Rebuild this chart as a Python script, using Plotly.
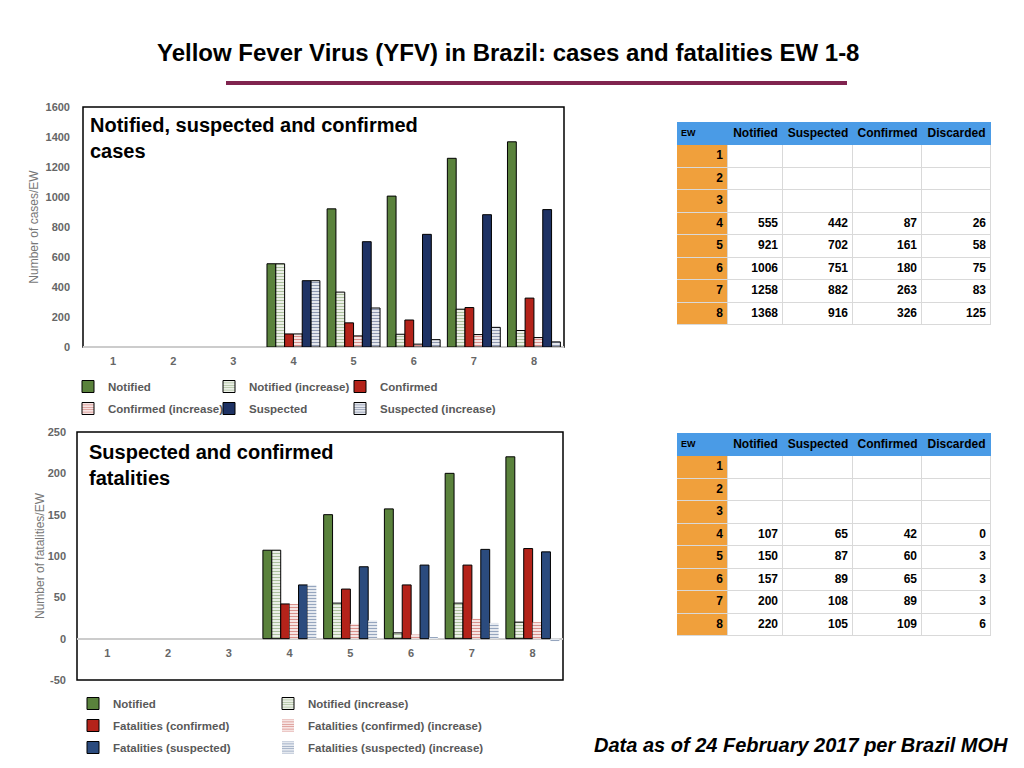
import plotly.graph_objects as go

W, H = 1024, 768

# epidemiological weeks
weeks = [1, 2, 3, 4, 5, 6, 7, 8]

# cases (cumulative)
notified = [None, None, None, 555, 921, 1006, 1258, 1368]
suspected = [None, None, None, 442, 702, 751, 882, 916]
confirmed = [None, None, None, 87, 161, 180, 263, 326]
discarded = [None, None, None, 26, 58, 75, 83, 125]
# cases (increase per EW)
notified_inc = [None, None, None, 555, 366, 85, 252, 110]
confirmed_inc = [None, None, None, 87, 74, 19, 83, 63]
suspected_inc = [None, None, None, 442, 260, 49, 131, 34]

# fatalities (cumulative)
f_notified = [None, None, None, 107, 150, 157, 200, 220]
f_suspected = [None, None, None, 65, 87, 89, 108, 105]
f_confirmed = [None, None, None, 42, 60, 65, 89, 109]
f_discarded = [None, None, None, 0, 3, 3, 3, 6]
# fatalities (increase per EW)
f_notified_inc = [None, None, None, 107, 43, 7, 43, 20]
f_confirmed_inc = [None, None, None, 42, 18, 5, 24, 20]
f_suspected_inc = [None, None, None, 65, 22, 2, 19, -3]

table_header = ["EW", "Notified", "Suspected", "Confirmed", "Discarded"]
fat_ticks = [-50, 0, 50, 100, 150, 200, 250]

GREEN = "#5a823c"
RED = "#b4231a"
NAVY = "#1e3264"
BLUE = "#2b4b7e"
ORANGE = "#f0a03c"
HEAD_BLUE = "#4a9be6"
GREY = "#666666"
FONT = "Liberation Sans, Arial, sans-serif"


def px_x(v):
    return v / W


def px_y(v):
    return 1 - v / H


def bar(name, y, color, axis, legend, striped=False, outline=True):
    kw = dict(x=weeks, y=y, name=name, xaxis="x" + axis, yaxis="y" + axis,
              legend=legend, legendgroup=name + axis, hoverinfo="skip",
              marker=dict(color=color, line=dict(color="black", width=1 if outline else 0)))
    if striped:
        kw["marker"]["pattern"] = dict(shape="-", bgcolor="white", fgcolor=color, size=3, solidity=0.5)
    return go.Bar(**kw)


fig = go.Figure()

# top chart: cases (each legend is one column of entries)
fig.add_trace(bar("Notified", notified, GREEN, "", "legend"))
fig.add_trace(bar("Notified (increase)", notified_inc, GREEN, "", "legend2", striped=True))
fig.add_trace(bar("Confirmed", confirmed, RED, "", "legend3"))
fig.add_trace(bar("Confirmed (increase)", confirmed_inc, RED, "", "legend", striped=True))
fig.add_trace(bar("Suspected", suspected, NAVY, "", "legend2"))
fig.add_trace(bar("Suspected (increase)", suspected_inc, NAVY, "", "legend3", striped=True))

# bottom chart: fatalities
fig.add_trace(bar("Notified", f_notified, GREEN, "2", "legend4"))
fig.add_trace(bar("Notified (increase)", f_notified_inc, GREEN, "2", "legend5", striped=True))
fig.add_trace(bar("Fatalities (confirmed)", f_confirmed, RED, "2", "legend4"))
fig.add_trace(bar("Fatalities (confirmed) (increase)", f_confirmed_inc, RED, "2", "legend5",
                  striped=True, outline=False))
fig.add_trace(bar("Fatalities (suspected)", f_suspected, BLUE, "2", "legend4"))
fig.add_trace(bar("Fatalities (suspected) (increase)", f_suspected_inc, BLUE, "2", "legend5",
                  striped=True, outline=False))

# tables drawn as a heatmap grid + text on their own axes
col_w = [51, 55, 70, 69, 69]
head_h = 23
row_h = 22.5
x_edges = [0]
for w in col_w:
    x_edges.append(x_edges[-1] + w)
y_edges = [0, head_h] + [head_h + row_h * (i + 1) for i in range(len(weeks))]
grid_z = [[2] * len(col_w)] + [[1] + [0] * (len(col_w) - 1) for _ in weeks]


def add_table(cols, ax):
    xa, ya = "x" + ax, "y" + ax
    fig.add_trace(go.Heatmap(x=x_edges, y=y_edges, z=grid_z, xaxis=xa, yaxis=ya,
                             colorscale=[[0, "white"], [0.5, ORANGE], [1, HEAD_BLUE]],
                             zmin=0, zmax=2, showscale=False, xgap=1, ygap=1,
                             hoverinfo="skip"))
    # header text
    hx = [x_edges[0] + 4] + [(x_edges[i] + x_edges[i + 1]) / 2 for i in range(1, len(col_w))]
    fig.add_trace(go.Scatter(x=hx, y=[head_h / 2] * len(col_w), xaxis=xa, yaxis=ya, mode="text",
                             text=["<b>%s</b>" % h for h in table_header],
                             textposition=["middle right"] + ["middle center"] * 4,
                             textfont=dict(family=FONT, size=[9, 12, 12, 12, 12], color="black"),
                             showlegend=False, hoverinfo="skip", cliponaxis=False))
    # body text (right aligned)
    bx, by, bt = [], [], []
    for r, wk in enumerate(weeks):
        yc = (y_edges[r + 1] + y_edges[r + 2]) / 2
        row = [wk] + [c[r] for c in cols]
        for c, v in enumerate(row):
            bx.append(x_edges[c + 1] - 5)
            by.append(yc)
            bt.append("" if v is None else "<b>%d</b>" % v)
    fig.add_trace(go.Scatter(x=bx, y=by, xaxis=xa, yaxis=ya, mode="text", text=bt,
                             textposition="middle left",
                             textfont=dict(family=FONT, size=12, color="black"),
                             showlegend=False, hoverinfo="skip", cliponaxis=False))
    # separators behind the gaps
    fig.add_shape(type="rect", xref=xa, yref=ya, x0=0, x1=x_edges[-1], y0=head_h, y1=y_edges[-1],
                  fillcolor="#d9d9d9", line=dict(width=0), layer="below")
    fig.add_shape(type="rect", xref=xa, yref=ya, x0=0, x1=x_edges[-1], y0=0, y1=head_h,
                  fillcolor=HEAD_BLUE, line=dict(width=0), layer="below")


add_table([notified, suspected, confirmed, discarded], "3")
add_table([f_notified, f_suspected, f_confirmed, f_discarded], "4")

tick_font = dict(family=FONT, size=11, color=GREY, weight="bold")
top_dom_y = [px_y(347), px_y(107)]
bot_dom_y = [px_y(680), px_y(432)]
bot_range = [fat_ticks[0], fat_ticks[-1]]
zero_pos = bot_dom_y[0] + (0 - bot_range[0]) / (bot_range[1] - bot_range[0]) * (bot_dom_y[1] - bot_dom_y[0])

legend_common = dict(orientation="v", xanchor="left", yanchor="top",
                     font=dict(family=FONT, size=11.5, color="#595959", weight="bold"),
                     bgcolor="rgba(0,0,0,0)", tracegroupgap=3)

table_x = dict(range=[0, x_edges[-1]], visible=False, fixedrange=True)
table_y = dict(range=[y_edges[-1], 0], visible=False, fixedrange=True)

fig.update_layout(
    width=W, height=H,
    margin=dict(l=0, r=0, t=0, b=0, autoexpand=False),
    paper_bgcolor="white", plot_bgcolor="white",
    font=dict(family=FONT),
    barmode="group", bargap=0.12, bargroupgap=0,
    showlegend=True,
    xaxis=dict(domain=[px_x(83), px_x(564)], range=[0.5, 8.5], tickvals=weeks,
               showgrid=False, zeroline=False, showline=False, tickfont=tick_font,
               ticklabelstandoff=6, anchor="y"),
    yaxis=dict(domain=top_dom_y, range=[0, 1600], dtick=200, showgrid=False,
               zeroline=True, zerolinecolor="#cccccc", zerolinewidth=1.5,
               tickfont=tick_font, ticklabelstandoff=12, anchor="x",
               title=dict(text="Number of cases/EW", font=dict(family=FONT, size=12, color="#777777"),
                          standoff=4)),
    xaxis2=dict(domain=[px_x(77), px_x(563)], range=[0.5, 8.5], tickvals=weeks,
                showgrid=False, zeroline=False, showline=False, tickfont=tick_font,
                ticklabelstandoff=6, anchor="free", position=zero_pos),
    yaxis2=dict(domain=bot_dom_y, range=bot_range, tickvals=fat_ticks,
                ticktext=[str(v) for v in fat_ticks], showgrid=False,
                zeroline=True, zerolinecolor="#cccccc", zerolinewidth=1.5,
                tickfont=tick_font, ticklabelstandoff=10, anchor="x2",
                title=dict(text="Number of fatalities/EW", font=dict(family=FONT, size=12, color="#777777"),
                           standoff=0)),
    xaxis3=dict(table_x, domain=[px_x(677), px_x(991)], anchor="y3"),
    yaxis3=dict(table_y, domain=[px_y(325), px_y(122)], anchor="x3"),
    xaxis4=dict(table_x, domain=[px_x(677), px_x(991)], anchor="y4"),
    yaxis4=dict(table_y, domain=[px_y(636), px_y(433)], anchor="x4"),
    legend=dict(legend_common, x=px_x(68), y=px_y(372)),
    legend2=dict(legend_common, x=px_x(209), y=px_y(372)),
    legend3=dict(legend_common, x=px_x(340), y=px_y(372)),
    legend4=dict(legend_common, x=px_x(73), y=px_y(689)),
    legend5=dict(legend_common, x=px_x(268), y=px_y(689)),
)

# chart frames
for ax in ["", "2"]:
    fig.add_shape(type="rect", xref="x%s domain" % ax, yref="y%s domain" % ax,
                  x0=0, x1=1, y0=0, y1=1, line=dict(color="black", width=1.5), layer="below")

# slide title and rule
fig.add_annotation(x=px_x(508), y=px_y(52), xref="paper", yref="paper", showarrow=False,
                   xanchor="center", yanchor="middle",
                   text="<b>Yellow Fever Virus (YFV) in Brazil: cases and fatalities EW 1-8</b>",
                   font=dict(family="Liberation Sans Narrow, Arial Narrow, " + FONT, size=24, color="black"))
fig.add_shape(type="line", xref="paper", yref="paper", x0=px_x(226), x1=px_x(847),
              y0=px_y(83), y1=px_y(83), line=dict(color="#80244f", width=4))

# chart titles
fig.add_annotation(x=px_x(88), y=px_y(112), xref="paper", yref="paper", showarrow=False,
                   xanchor="left", yanchor="top", align="left",
                   text="<b>Notified, suspected and confirmed<br>cases</b>",
                   font=dict(family=FONT, size=20, color="black"))
fig.add_annotation(x=px_x(87), y=px_y(439), xref="paper", yref="paper", showarrow=False,
                   xanchor="left", yanchor="top", align="left",
                   text="<b>Suspected and confirmed<br>fatalities</b>",
                   font=dict(family=FONT, size=20, color="black"))

# footnote
fig.add_annotation(x=px_x(1010), y=px_y(745), xref="paper", yref="paper", showarrow=False,
                   xanchor="right", yanchor="middle",
                   text="<b><i>Data as of 24 February 2017 per Brazil MOH</i></b>",
                   font=dict(family=FONT, size=20, color="black"))

fig.write_html("out.html", config={"displayModeBar": False},
               post_script="document.body.style.margin='0';")
